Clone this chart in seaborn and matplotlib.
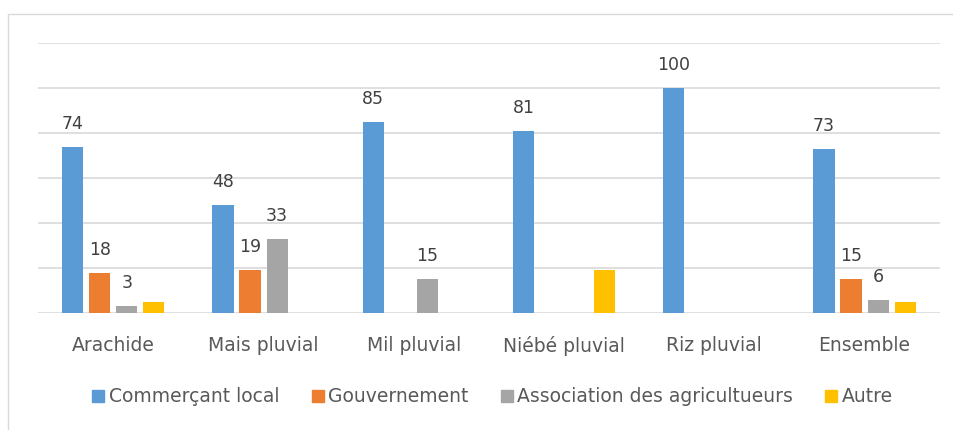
import matplotlib.pyplot as plt
import matplotlib.lines as mlines
import seaborn as sns
import pandas as pd

categories = ["Arachide", "Mais pluvial", "Mil pluvial", "Niébé pluvial", "Riz pluvial", "Ensemble"]
series = ["Commerçant local", "Gouvernement", "Association des agricultueurs", "Autre"]
commercant = [74, 48, 85, 81, 100, 73]
gouvernement = [18, 19, 0, 0, 0, 15]
association = [3, 33, 15, 0, 0, 6]
autre = [5, 0, 0, 19, 0, 5]
colors = ["#5B9BD5", "#ED7D31", "#A5A5A5", "#FFC000"]

rows = []
for name, vals in zip(series, [commercant, gouvernement, association, autre]):
    for cat, v in zip(categories, vals):
        rows.append({"cat": cat, "serie": name, "val": v})
df = pd.DataFrame(rows)

sns.set_style("white")
plt.rcParams["font.family"] = ["DejaVu Sans"]

fig = plt.figure(figsize=(9.54, 4.3), dpi=100)
ax = fig.add_axes([0.040, 0.272, 0.945, 0.628])

sns.barplot(data=df, x="cat", y="val", hue="serie", hue_order=series,
            palette=colors, width=0.72, gap=0.22, ax=ax, legend=False,
            saturation=1, errorbar=None, linewidth=0)

ax.set_ylim(0, 120)
ax.set_xlim(-0.5, 5.5)
ax.set_yticks(range(0, 121, 20))
ax.yaxis.grid(True, color="#D9D9D9", linewidth=1.2)
ax.set_axisbelow(True)
ax.tick_params(axis="y", left=False, labelleft=False)
ax.tick_params(axis="x", bottom=False, labelsize=13.5, labelcolor="#595959", pad=13)
ax.set_xlabel("")
ax.set_ylabel("")
for s in ax.spines.values():
    s.set_visible(False)

# labels: only the first three series, non-zero values
for i, cont in enumerate(ax.containers):
    if i == 3:
        continue
    labels = [f"{v:g}" if v > 0 else "" for v in cont.datavalues]
    ax.bar_label(cont, labels=labels, padding=10, fontsize=12.5, color="#404040")

handles = [mlines.Line2D([], [], marker="s", linestyle="none", markersize=9,
                         markerfacecolor=c, markeredgecolor=c) for c in colors]
fig.legend(handles, series, loc="center", bbox_to_anchor=(0.515, 0.077), ncol=4,
           frameon=False, fontsize=13.5, labelcolor="#595959",
           handletextpad=0.1, columnspacing=1.6, handlelength=0.9)

# chart frame
fig.add_artist(mlines.Line2D([8 / 954, 8 / 954], [0, 1 - 14 / 430],
                             transform=fig.transFigure, color="#D9D9D9", lw=1))
fig.add_artist(mlines.Line2D([8 / 954, 1], [1 - 14 / 430, 1 - 14 / 430],
                             transform=fig.transFigure, color="#D9D9D9", lw=1))

fig.savefig("out.png", dpi=100)
